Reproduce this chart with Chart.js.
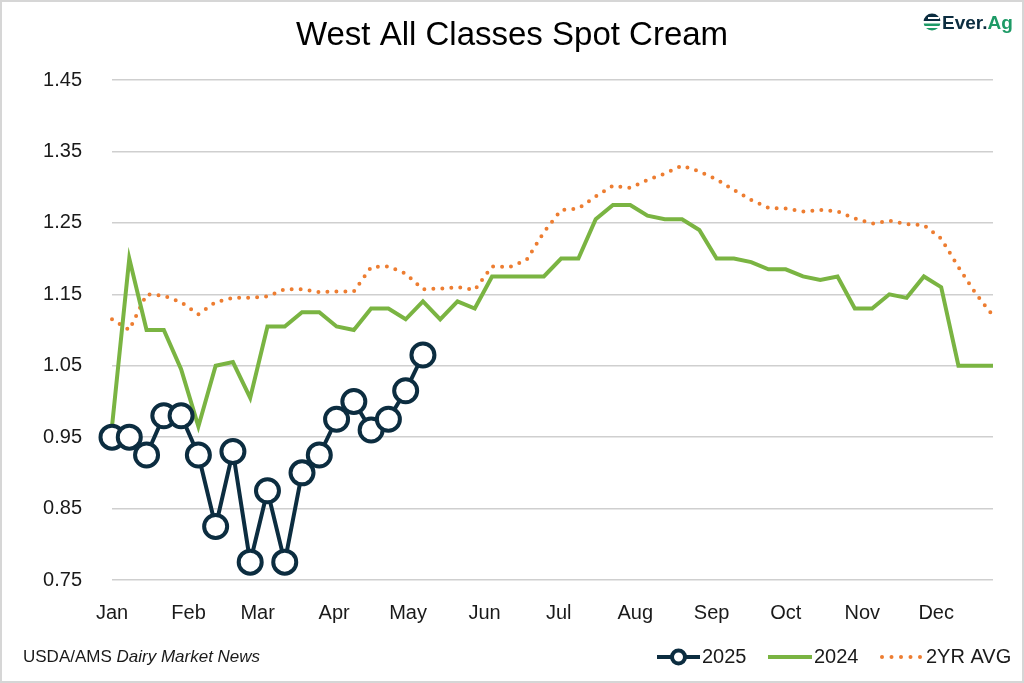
<!DOCTYPE html>
<html>
<head>
<meta charset="utf-8">
<title>West All Classes Spot Cream</title>
<script src="https://cdn.jsdelivr.net/npm/chart.js@4.4.1/dist/chart.umd.min.js"></script>
<style>
  html, body { margin: 0; padding: 0; background: #fff; }
  canvas { display: block; }
</style>
</head>
<body>
<canvas id="myChart" width="1024" height="683"></canvas>
<script>
// weekly series, 52 weeks on the x axis
const chartTitle = 'West All Classes Spot Cream';
const months = ['Jan', 'Feb', 'Mar', 'Apr', 'May', 'Jun', 'Jul', 'Aug', 'Sep', 'Oct', 'Nov', 'Dec'];
const monthWeeks = [0, 4.43, 8.43, 12.86, 17.14, 21.57, 25.86, 30.29, 34.71, 39, 43.43, 47.71];
const yTicks = [0.75, 0.85, 0.95, 1.05, 1.15, 1.25, 1.35, 1.45];
const weeks = Array.from({ length: 52 }, (_, i) => i);

const spot2025 = [0.95, 0.95, 0.925, 0.98, 0.98, 0.925, 0.825, 0.93, 0.775, 0.875,
  0.775, 0.90, 0.925, 0.975, 1.00, 0.96, 0.975, 1.015, 1.065];

const spot2024 = [0.965, 1.20, 1.10, 1.10, 1.045, 0.965, 1.05, 1.055, 1.005, 1.105,
  1.105, 1.125, 1.125, 1.105, 1.10, 1.13, 1.13, 1.115, 1.14, 1.115,
  1.14, 1.13, 1.175, 1.175, 1.175, 1.175, 1.20, 1.20, 1.255, 1.275,
  1.275, 1.26, 1.255, 1.255, 1.24, 1.20, 1.20, 1.195, 1.185, 1.185,
  1.175, 1.17, 1.175, 1.13, 1.13, 1.15, 1.145, 1.175, 1.16, 1.05,
  1.05, 1.05];

const avg2yr = [1.115, 1.10, 1.15, 1.148, 1.139, 1.122, 1.139, 1.145, 1.145, 1.147,
  1.157, 1.157, 1.153, 1.154, 1.154, 1.188, 1.189, 1.179, 1.157, 1.158,
  1.16, 1.156, 1.189, 1.188, 1.198, 1.237, 1.268, 1.27, 1.287, 1.302,
  1.299, 1.31, 1.319, 1.33, 1.322, 1.311, 1.296, 1.282, 1.271, 1.27,
  1.266, 1.268, 1.266, 1.256, 1.249, 1.253, 1.248, 1.247, 1.228, 1.188,
  1.151, 1.12];

const NAVY = '#0c2d40';
const GREEN = '#7ab442';
const ORANGE = '#ed7d31';
const FONT = '"Liberation Sans", Arial, sans-serif';

// background, frame, title, source note, legend and logo
const decorations = {
  id: 'decorations',
  beforeDraw(chart) {
    const ctx = chart.ctx;
    ctx.save();
    ctx.fillStyle = '#fff';
    ctx.fillRect(0, 0, chart.width, chart.height);
    ctx.restore();
  },
  afterDraw(chart) {
    const ctx = chart.ctx;
    const ds = chart.data.datasets;
    ctx.save();
    ctx.strokeStyle = '#d6d6d6';
    ctx.lineWidth = 2;
    ctx.strokeRect(1, 1, chart.width - 2, chart.height - 2);

    // title, centred on the whole picture
    ctx.textBaseline = 'middle';
    ctx.textAlign = 'center';
    ctx.fillStyle = '#000';
    ctx.font = '33px ' + FONT;
    ctx.fillText(chartTitle, chart.width / 2, 36);
    ctx.textAlign = 'left';

    // source
    const ly = 657;
    ctx.fillStyle = '#1a1a1a';
    ctx.font = '17px ' + FONT;
    ctx.fillText('USDA/AMS ', 23, ly);
    const w = ctx.measureText('USDA/AMS ').width;
    ctx.font = 'italic 17px ' + FONT;
    ctx.fillText('Dairy Market News', 23 + w, ly);

    // legend
    ctx.font = '20px ' + FONT;
    ctx.lineCap = 'butt';
    // 2025
    ctx.strokeStyle = ds[0].borderColor;
    ctx.lineWidth = 4;
    ctx.beginPath(); ctx.moveTo(657, ly); ctx.lineTo(700, ly); ctx.stroke();
    ctx.beginPath(); ctx.arc(678.5, ly, 6.5, 0, Math.PI * 2);
    ctx.fillStyle = '#fff'; ctx.fill(); ctx.stroke();
    ctx.fillStyle = '#1a1a1a';
    ctx.fillText(ds[0].label, 702, ly);
    // 2024
    ctx.strokeStyle = ds[1].borderColor;
    ctx.beginPath(); ctx.moveTo(768, ly); ctx.lineTo(812, ly); ctx.stroke();
    ctx.fillText(ds[1].label, 814, ly);
    // 2YR AVG
    ctx.fillStyle = ds[2].borderColor;
    for (let i = 0; i < 5; i++) {
      ctx.beginPath(); ctx.arc(882 + i * 9.5, ly, 2, 0, Math.PI * 2); ctx.fill();
    }
    ctx.fillStyle = '#1a1a1a';
    ctx.fillText(ds[2].label, 926, ly);

    // logo
    ctx.save();
    ctx.beginPath(); ctx.arc(932, 22, 8.5, 0, Math.PI * 2); ctx.clip();
    ctx.fillStyle = NAVY;
    ctx.fillRect(922, 12, 20, 9);
    ctx.fillStyle = '#1d9a66';
    ctx.fillRect(922, 23.5, 20, 2.5);
    ctx.fillRect(922, 28, 20, 3);
    ctx.restore();
    ctx.fillStyle = '#fff';
    ctx.fillRect(928, 17, 11, 2);
    ctx.font = 'bold 19px ' + FONT;
    ctx.textBaseline = 'alphabetic';
    ctx.fillStyle = NAVY;
    ctx.fillText('Ever.', 942, 29);
    const ew = ctx.measureText('Ever.').width;
    ctx.fillStyle = '#1d9a66';
    ctx.fillText('Ag', 942 + ew, 29);
    ctx.restore();
  }
};

const ctx = document.getElementById('myChart').getContext('2d');
const chart = new Chart(ctx, {
  type: 'line',
  data: {
    labels: weeks,
    datasets: [
      {
        label: '2025',
        data: spot2025,
        borderColor: NAVY,
        borderWidth: 4,
        pointRadius: 11.5,
        pointBorderWidth: 4,
        pointBackgroundColor: '#fff',
        pointBorderColor: NAVY,
        clip: false
      },
      {
        label: '2024',
        data: spot2024,
        borderColor: GREEN,
        borderWidth: 4,
        pointRadius: 0,
        clip: false
      },
      {
        label: '2YR AVG',
        data: avg2yr,
        borderColor: ORANGE,
        borderWidth: 4,
        borderDash: [0, 9],
        borderCapStyle: 'round',
        pointRadius: 0,
        clip: false
      }
    ]
  },
  options: {
    responsive: false,
    animation: false,
    layout: { padding: { top: 80, right: 31, bottom: 37, left: 0 } },
    plugins: {
      legend: { display: false },
      tooltip: { enabled: false },
      title: { display: false }
    },
    scales: {
      x: {
        type: 'linear',
        min: 0,
        max: 51,
        grid: { display: false, drawTicks: false },
        border: { display: false },
        afterBuildTicks: (s) => { s.ticks = monthWeeks.map(v => ({ value: v })); },
        ticks: {
          autoSkip: false,
          maxRotation: 0,
          padding: 21,
          color: '#1a1a1a',
          font: { family: FONT, size: 20 },
          callback: (v, i) => months[i]
        }
      },
      y: {
        min: 0.75,
        max: 1.45,
        afterFit: (s) => { s.width = 112; },
        afterBuildTicks: (s) => { s.ticks = yTicks.map(v => ({ value: v })); },
        grid: { color: '#cfcfcf', lineWidth: 1.5, drawTicks: false },
        border: { display: false },
        ticks: {
          padding: 30,
          color: '#1a1a1a',
          font: { family: FONT, size: 20 },
          callback: (v) => v.toFixed(2)
        }
      }
    }
  },
  plugins: [decorations]
});
</script>
</body>
</html>
